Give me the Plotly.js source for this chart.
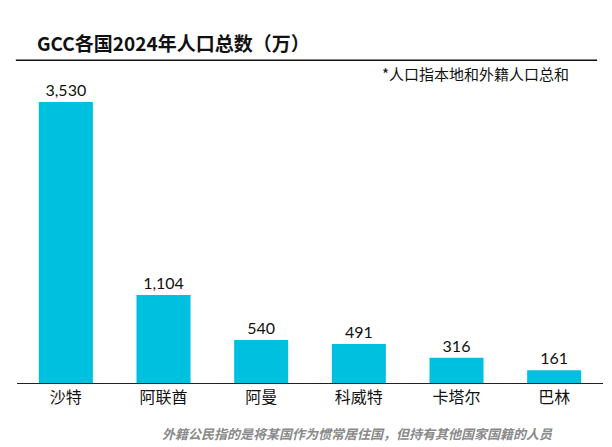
<!DOCTYPE html>
<html><head><meta charset="utf-8">
<script src="https://cdn.plot.ly/plotly-3.0.1.min.js"></script>
<style>body{margin:0;background:#fff}#c{width:612px;height:447px}</style>
</head><body><div id="c"></div>
<script>
const countries = ["沙特","阿联酋","阿曼","科威特","卡塔尔","巴林"];
const population = [3530,1104,540,491,316,161];
const labels = population.map(v => v.toLocaleString("en-US"));
const font = "Lato, 'Noto Sans CJK SC', sans-serif";
const trace = {
  type: "bar", x: countries, y: population, text: labels,
  textposition: "outside", cliponaxis: false,
  textfont: {size: 16, color: "#111", family: font},
  marker: {color: "#00C0E0"}, hoverinfo: "none"
};
const layout = {
  width: 612, height: 447,
  margin: {l: 17, r: 9, t: 102, b: 64},
  paper_bgcolor: "#fff", plot_bgcolor: "#fff",
  bargap: 0.447, showlegend: false,
  font: {family: font},
  xaxis: {showline: true, linecolor: "#222", linewidth: 1.2, ticks: "",
          tickfont: {size: 16, color: "#111", family: "'Noto Sans CJK SC', sans-serif"}, fixedrange: true},
  yaxis: {range: [0, 3530], visible: false, fixedrange: true},
  shapes: [{type: "line", xref: "paper", yref: "paper", x0: -0.002, x1: 0.990, y0: 1.149, y1: 1.149,
            line: {color: "#111", width: 1.5}}],
  annotations: [
    {text: "<b>GCC各国2024年人口总数（万）</b>", xref: "paper", yref: "paper", x: 0.03, y: 1.213,
     xanchor: "left", yanchor: "middle", showarrow: false,
     font: {size: 19, color: "#111", family: "'Noto Sans CJK SC', sans-serif"}},
    {text: "*人口指本地和外籍人口总和", xref: "paper", yref: "paper", x: 0.946, y: 1.103,
     xanchor: "right", yanchor: "middle", showarrow: false,
     font: {size: 15, color: "#111", family: "'Noto Sans CJK SC', sans-serif"}},
    {text: "<i><b>外籍公民指的是将某国作为惯常居住国，但持有其他国家国籍的人员</b></i>", xref: "paper", yref: "paper",
     x: 0.918, y: -0.181, xanchor: "right", yanchor: "middle", showarrow: false,
     font: {size: 13, color: "#8a8a8a", family: "'Noto Sans CJK SC', sans-serif"}}
  ]
};
Plotly.newPlot("c", [trace], layout, {displayModeBar: false, staticPlot: true});
</script></body></html>
